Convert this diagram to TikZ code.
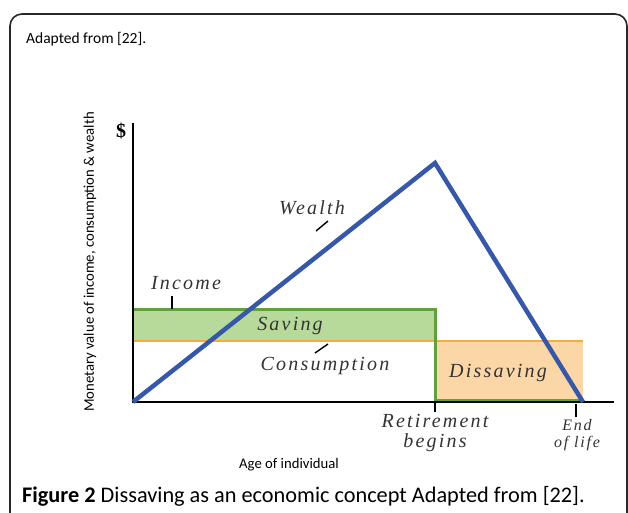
\documentclass[tikz,border=0pt]{standalone}
\usepackage{fontspec}
\setmainfont{Liberation Serif}
\newfontfamily\capfont{Carlito}
\newfontfamily\lblfont{Liberation Serif}[LetterSpace=11]
\definecolor{wblue}{RGB}{55,88,168}
\definecolor{igreen}{RGB}{98,160,62}
\definecolor{sfill}{RGB}{183,218,155}
\definecolor{corange}{RGB}{245,172,62}
\definecolor{dfill}{RGB}{251,214,166}
\definecolor{framec}{RGB}{40,40,40}
\tikzset{
  lbl/.style={font=\lblfont\itshape\fontsize{20}{22}\selectfont, text=black!80, inner sep=0pt},
  smlbl/.style={font=\lblfont\itshape\fontsize{16}{18}\selectfont, text=black!80, inner sep=0pt},
  sans/.style={font=\capfont\fontsize{14.7}{16}\selectfont, inner sep=0pt},
  ticker/.style={line width=1.4pt, black},
}
\begin{document}
\begin{tikzpicture}[x=1pt,y=-1pt]
\useasboundingbox (0,0) rectangle (628,513);
\begin{scope}
\clip (0,0) rectangle (628,513);
\draw[framec, line width=1.6pt, rounded corners=12pt] (10,14) rectangle (627,540);
\end{scope}
\node[anchor=west, inner sep=0pt, font=\capfont\fontsize{15.5}{17}\selectfont] (adapted) at (26,39) {Adapted from [22].};
% coordinates
\coordinate (O) at (133,402);
\coordinate (ytop) at (133,123);
\coordinate (xend) at (614,402);
\coordinate (ret) at (435,402);
\coordinate (end) at (583,402);
\coordinate (peak) at (435,163);
% fills
\fill[sfill] (133,309) rectangle (435,341);
\fill[dfill] (435,341) rectangle (583,400);
% consumption line
\draw[corange, line width=2.2pt] (133,341) -- (583,341);
% income / retirement green
\draw[igreen, line width=3pt] (133,309) -- (435,309) -- (435,400) -- (583,400);
% axes
\draw[black, line width=1.2pt] (ytop) -- (O) -- (xend);
% wealth
\draw[wblue, line width=4.5pt, line join=miter] (O) -- (peak) -- (end);
% ticks
\draw[ticker] (172,296) -- (172,309);
\draw[ticker] (316,231) -- (328,221);
\draw[ticker] (315,353) -- (328,344);
\draw[ticker] (ret) -- (435,412);
\draw[black, line width=2.2pt] (576,404) -- (576,417);
% labels
\node[font=\bfseries\fontsize{20}{22}\selectfont, inner sep=0pt] (dollar) at (121,131) {\$};
\node[lbl] (income) at (186,283) {Income};
\node[lbl] (wealth) at (312,208) {Wealth};
\node[lbl] (saving) at (290,326) {Saving};
\node[lbl] (consumption) at (325,366) {Consumption};
\node[lbl] (dissaving) at (498,373) {Dissaving};
\node[lbl] (retire) at (435,421) {Retirement};
\node[lbl] (begins) at (435,443) {begins};
\node[smlbl] (endl) at (577,425) {End};
\node[smlbl] (oflife) at (577,444) {of life};
\node[sans] (age) at (289,465) {Age of individual};
\node[sans, rotate=90] (ylab) at (90,262) {Monetary value of income, consumption \& wealth};
\node[anchor=west, inner sep=0pt, font=\capfont\fontsize{22.3}{24}\selectfont] (cap) at (22,496) {\textbf{Figure 2} Dissaving as an economic concept Adapted from [22].};
\end{tikzpicture}
\end{document}
